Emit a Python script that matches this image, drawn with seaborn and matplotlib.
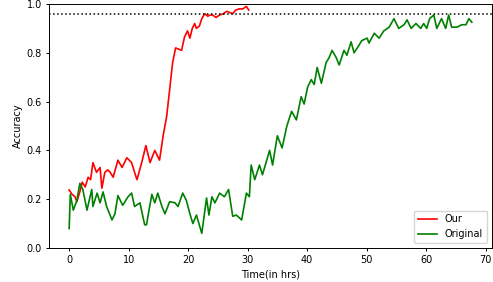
import pandas as pd
import matplotlib
matplotlib.use("Agg")
import matplotlib.pyplot as plt
import seaborn as sns

# values
our_x = [0, 0.5, 1.0, 1.3, 1.8, 2.2, 2.7, 3.2, 3.6, 4.0, 4.6, 5.2, 5.5, 6.0, 6.5,
         6.9, 7.4, 8.2, 8.9, 9.7, 10.5, 11.0, 11.4, 12.2, 12.9, 13.6, 14.4, 15.2,
         15.8, 16.4, 16.9, 17.4, 17.9, 18.4, 18.9, 19.4, 19.9, 20.3, 20.7, 21.1,
         21.4, 21.9, 22.3, 22.8, 23.3, 23.7, 24.1, 24.7, 25.3, 25.9, 26.5, 27.0,
         27.5, 28.0, 28.6, 29.2, 29.8, 30.2]
our_y = [0.238, 0.22, 0.21, 0.19, 0.23, 0.27, 0.25, 0.29, 0.28, 0.35, 0.31, 0.33,
         0.245, 0.31, 0.32, 0.31, 0.29, 0.36, 0.33, 0.37, 0.35, 0.31, 0.28, 0.35,
         0.42, 0.35, 0.40, 0.36, 0.46, 0.54, 0.65, 0.76, 0.82, 0.815, 0.81, 0.865,
         0.89, 0.86, 0.90, 0.92, 0.90, 0.91, 0.94, 0.96, 0.95, 0.955, 0.955, 0.945,
         0.955, 0.96, 0.97, 0.965, 0.96, 0.975, 0.98, 0.98, 0.99, 0.975]

orig_x = [0, 0.2, 0.7, 1.3, 1.8, 2.3, 3.0, 3.8, 4.0, 4.7, 5.2, 5.7, 6.3, 7.2, 7.7,
          8.2, 9.0, 9.9, 10.5, 11.0, 11.9, 12.7, 13.0, 13.9, 14.4, 14.9, 15.6,
          16.1, 16.9, 17.8, 18.3, 19.1, 19.7, 20.3, 20.8, 21.4, 22.3, 23.1, 23.5,
          24.0, 24.5, 25.3, 26.1, 26.8, 27.5, 28.1, 29.0, 29.8, 30.3, 30.6, 31.2,
          32.0, 32.5, 33.7, 34.2, 35.0, 35.8, 36.6, 37.4, 38.2, 39.0, 39.5, 40.1,
          40.7, 41.2, 41.7, 42.4, 43.2, 43.7, 44.2, 44.9, 45.4, 46.2, 46.7, 47.4,
          47.9, 48.7, 49.2, 50.1, 50.4, 51.3, 52.1, 52.9, 53.8, 54.6, 55.4, 56.3,
          56.8, 57.5, 58.3, 59.1, 59.6, 60.1, 60.6, 61.3, 61.8, 62.6, 63.3, 63.8,
          64.3, 65.2, 66.0, 66.7, 67.2, 67.7]
orig_y = [0.08, 0.22, 0.155, 0.195, 0.265, 0.24, 0.155, 0.24, 0.17, 0.225, 0.185,
          0.23, 0.17, 0.115, 0.14, 0.215, 0.175, 0.21, 0.225, 0.17, 0.185, 0.095,
          0.095, 0.22, 0.185, 0.225, 0.17, 0.14, 0.19, 0.185, 0.17, 0.225, 0.195,
          0.14, 0.10, 0.135, 0.06, 0.205, 0.135, 0.21, 0.185, 0.225, 0.21, 0.24,
          0.13, 0.135, 0.115, 0.225, 0.21, 0.34, 0.28, 0.34, 0.30, 0.40, 0.34, 0.46,
          0.41, 0.50, 0.56, 0.525, 0.62, 0.59, 0.66, 0.69, 0.67, 0.74, 0.675, 0.76,
          0.78, 0.81, 0.78, 0.75, 0.81, 0.79, 0.845, 0.80, 0.83, 0.85, 0.86, 0.84,
          0.88, 0.86, 0.89, 0.905, 0.94, 0.90, 0.915, 0.935, 0.90, 0.92, 0.90, 0.92,
          0.90, 0.94, 0.955, 0.90, 0.94, 0.90, 0.955, 0.905, 0.905, 0.915, 0.915,
          0.94, 0.925]

target = 0.96

df = pd.concat([
    pd.DataFrame({"time": our_x, "acc": our_y, "model": "Our"}),
    pd.DataFrame({"time": orig_x, "acc": orig_y, "model": "Original"}),
])

plt.rcParams["font.size"] = 7
fig = plt.figure(figsize=(4.93, 2.82), dpi=100)
ax = fig.add_axes([49 / 493, 34 / 282, 443 / 493, 244 / 282])

sns.lineplot(data=df, x="time", y="acc", hue="model",
             palette={"Our": "red", "Original": "green"},
             linewidth=1.2, ax=ax)
ax.axhline(target, color="black", linestyle=":", linewidth=1.1)

ax.set_ylim(0, 1.0)
ax.set_xlabel("Time(in hrs)", labelpad=3)
ax.set_ylabel("Accuracy", labelpad=3)
ax.tick_params(length=2.5, width=0.7, pad=2.5)
for s in ax.spines.values():
    s.set_linewidth(0.7)
ax.legend(loc="lower right", fontsize=7)

fig.savefig("out.png", dpi=100)
